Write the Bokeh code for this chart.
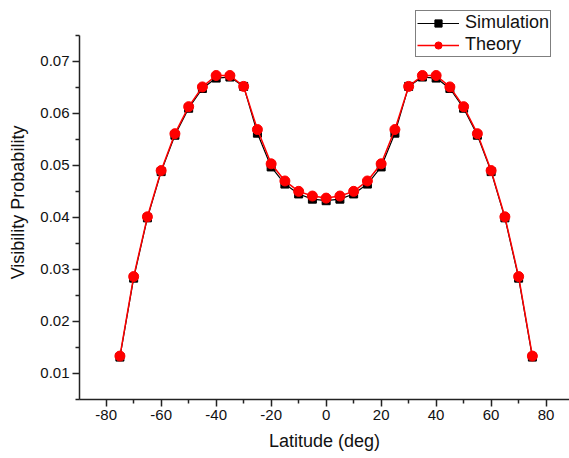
from bokeh.plotting import figure
from bokeh.models import FixedTicker, PrintfTickFormatter, Range1d, Legend, LegendItem
from bokeh.embed import file_html
from bokeh.resources import INLINE

latitude = [-75, -70, -65, -60, -55, -50, -45, -40, -35, -30, -25, -20, -15, -10, -5, 0,
            5, 10, 15, 20, 25, 30, 35, 40, 45, 50, 55, 60, 65, 70, 75]
simulation = [0.0131, 0.0283, 0.0399, 0.0488, 0.0558, 0.0610, 0.0648, 0.0668, 0.0670, 0.0652,
              0.0562, 0.0497, 0.0464, 0.0445, 0.0435, 0.0432, 0.0435, 0.0445, 0.0464, 0.0497,
              0.0562, 0.0652, 0.0670, 0.0668, 0.0648, 0.0610, 0.0558, 0.0488, 0.0399, 0.0283, 0.0131]
theory = [0.0133, 0.0286, 0.0401, 0.0490, 0.0561, 0.0613, 0.0651, 0.0673, 0.0673, 0.0652,
          0.0569, 0.0503, 0.0470, 0.0450, 0.0441, 0.0437, 0.0441, 0.0450, 0.0470, 0.0503,
          0.0569, 0.0652, 0.0673, 0.0673, 0.0651, 0.0613, 0.0561, 0.0490, 0.0401, 0.0286, 0.0133]
x_ticks = [-80, -60, -40, -20, 0, 20, 40, 60, 80]
x_minor = [-90, -70, -50, -30, -10, 10, 30, 50, 70, 90]
y_ticks = [0.01, 0.02, 0.03, 0.04, 0.05, 0.06, 0.07]
y_minor = [0.005, 0.015, 0.025, 0.035, 0.045, 0.055, 0.065, 0.075]

FONT = "Liberation Sans"

p = figure(width=569, height=458, output_backend="svg", toolbar_location=None,
           x_range=Range1d(-89.7, 88.5), y_range=Range1d(0.00494, 0.08077),
           min_border_left=79, min_border_right=0, min_border_top=5, min_border_bottom=59)
p.outline_line_color = None
p.xgrid.visible = False
p.ygrid.visible = False
p.background_fill_color = "white"

for ax in (p.xaxis[0], p.yaxis[0]):
    ax.axis_line_width = 1.5
    ax.axis_line_color = "#222222"
    ax.major_tick_line_color = "#222222"
    ax.minor_tick_line_color = "#222222"
    ax.major_tick_line_width = 1.5
    ax.minor_tick_line_width = 1.5
    ax.major_tick_in = 0
    ax.major_tick_out = 7
    ax.minor_tick_in = 0
    ax.minor_tick_out = 4
    ax.major_label_text_font = FONT
    ax.major_label_text_font_size = "15px"
    ax.major_label_text_color = "#111111"
    ax.axis_label_text_font = FONT
    ax.axis_label_text_font_size = "18px"
    ax.axis_label_text_font_style = "normal"
    ax.axis_label_text_color = "#111111"
    ax.major_label_standoff = 3

p.xaxis[0].ticker = FixedTicker(ticks=x_ticks, minor_ticks=x_minor)
p.yaxis[0].ticker = FixedTicker(ticks=y_ticks, minor_ticks=y_minor)
p.yaxis[0].bounds = (0.00494, 0.0750)
p.xaxis[0].formatter = PrintfTickFormatter(format="%d")
p.yaxis[0].formatter = PrintfTickFormatter(format="%.2f")
p.xaxis.axis_label = "Latitude (deg)"
p.yaxis.axis_label = "Visibility Probability"
p.xaxis.axis_label_standoff = 8
p.yaxis.axis_label_standoff = 9

l1 = p.line(latitude, simulation, line_color="black", line_width=1.2)
s1 = p.scatter(latitude, simulation, marker="square", size=8, fill_color="black", line_color="black")
l2 = p.line(latitude, theory, line_color="red", line_width=1.5)
s2 = p.scatter(latitude, theory, marker="circle", size=10, fill_color="red", line_color="red")

legend = Legend(items=[LegendItem(label="Simulation", renderers=[l1, s1]),
                       LegendItem(label="Theory", renderers=[l2, s2])],
                location=(336, 342))
legend.border_line_color = "black"
legend.border_line_width = 1
legend.background_fill_alpha = 1
legend.label_text_font = FONT
legend.label_text_font_size = "18px"
legend.label_text_color = "#111111"
legend.glyph_width = 42
legend.glyph_height = 18
legend.label_standoff = 6
legend.label_height = 18
legend.spacing = 1
legend.padding = 1
legend.margin = 0
p.add_layout(legend)

open("out.html", "w").write(file_html(p, INLINE))
